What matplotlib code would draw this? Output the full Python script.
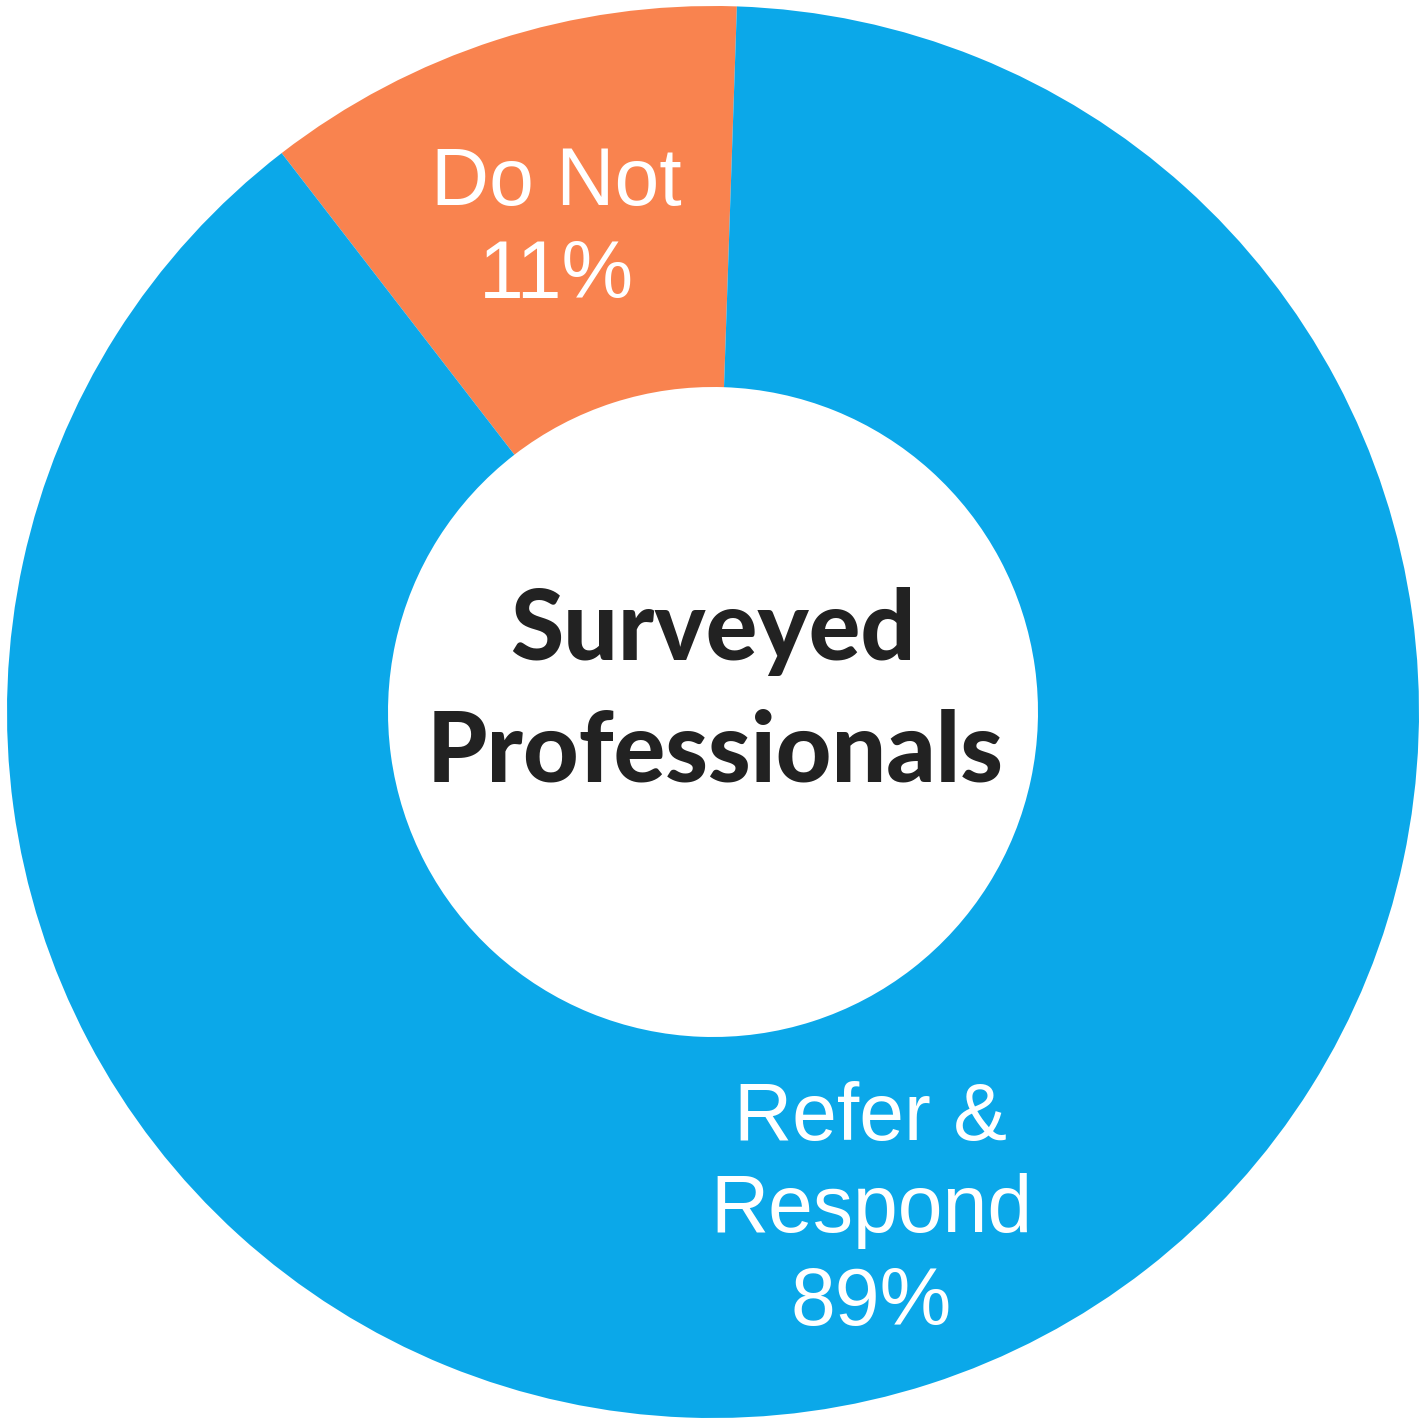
import matplotlib
matplotlib.use("Agg")
import matplotlib.pyplot as plt

categories = ["Do Not", "Refer &\nRespond"]
values = [11, 89]
pct_labels = ["11%", "89%"]
colors = ["#F9834F", "#0BA8E9"]
center_lines = ["Surveyed", "Professionals"]

W, H = 1425, 1418
fig = plt.figure(figsize=(W / 100, H / 100), dpi=100)
ax = fig.add_axes([0, 0, 1, 1])

cx, cy = 713, H - 712
R, r = 706, 325
ax.pie(values, colors=colors, startangle=88.06, counterclock=True,
       center=(cx, cy), radius=R, frame=True,
       wedgeprops=dict(width=R - r, linewidth=0))
ax.set_xlim(0, W)
ax.set_ylim(0, H)
ax.set_aspect("equal")
ax.axis("off")

lab_font = dict(family=["Liberation Sans", "DejaVu Sans"], fontsize=58, color="white",
                ha="center", va="baseline")
# Do Not label
ax.text(556, H - 205, categories[0], **lab_font)
ax.text(556, H - 298, pct_labels[0], **lab_font)
# Refer & Respond label
l1, l2 = categories[1].split("\n")
ax.text(871, H - 1140, l1, **lab_font)
ax.text(871, H - 1232, l2, **lab_font)
ax.text(871, H - 1325, pct_labels[1], **lab_font)

c_font = dict(family=["Lato", "DejaVu Sans"], fontsize=69.5, fontweight="black",
              color="#222222", ha="center", va="baseline")
ax.text(713, H - 660, center_lines[0], **c_font)
ax.text(715, H - 782, center_lines[1], **c_font)

fig.savefig("out.png", dpi=100)
